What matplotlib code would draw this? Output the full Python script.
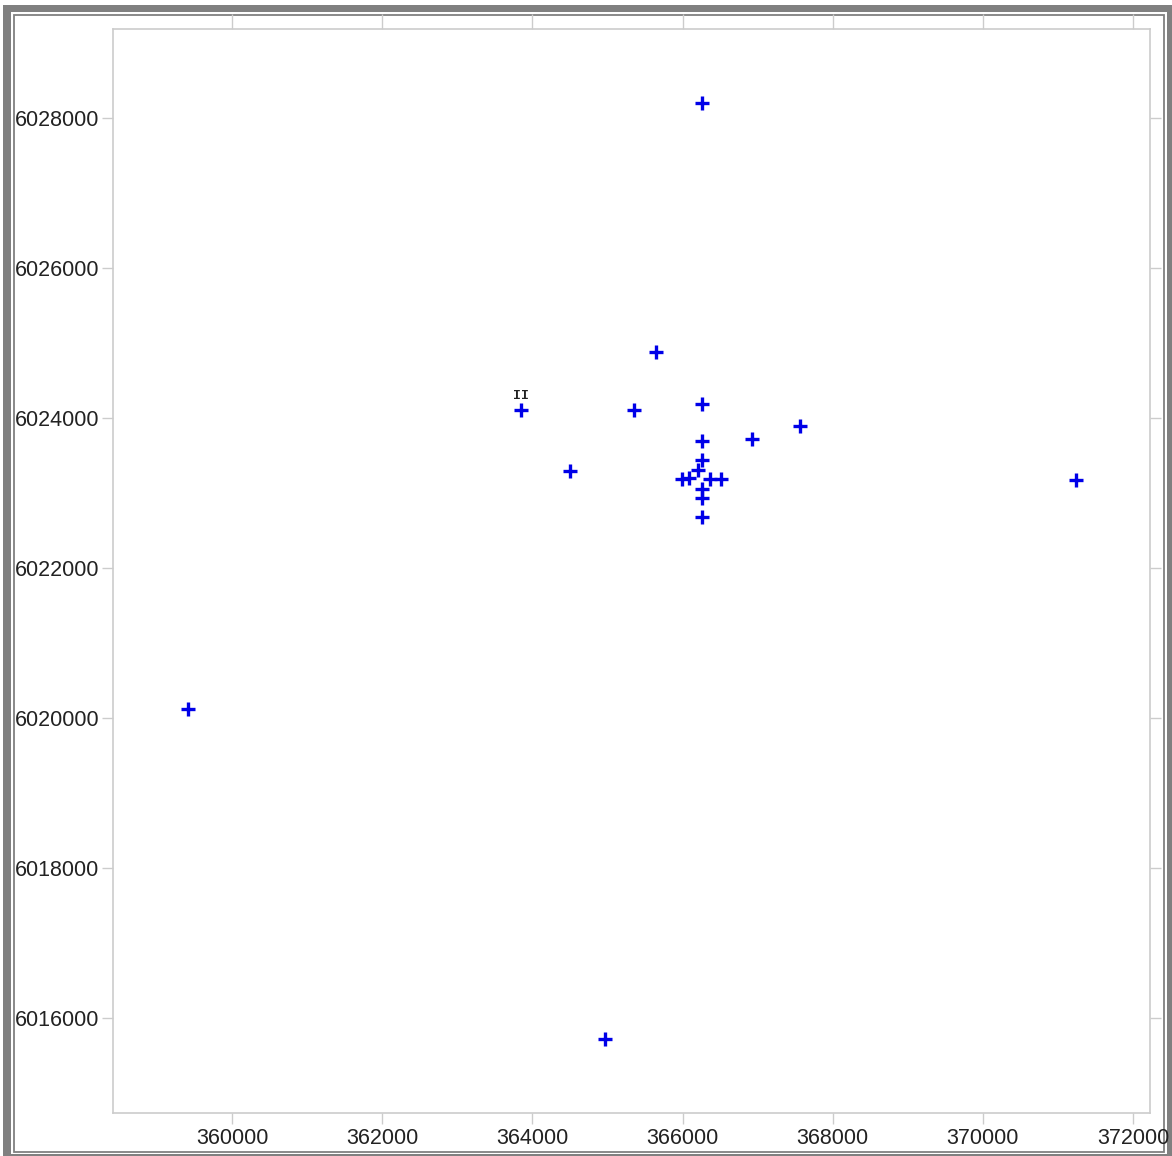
import numpy as np
import matplotlib.pyplot as plt
from matplotlib.patches import Rectangle

# Station coordinates (easting / northing)
easting = [366253, 365653, 363853, 365347, 366253, 364507, 366253, 366920,
           367560, 371240, 359413, 364973, 366253, 366200, 365987, 366080,
           366360, 366507, 366253, 366253, 366253]
northing = [6028200, 6024880, 6024107, 6024107, 6024187, 6023293, 6023693, 6023720,
            6023893, 6023173, 6020120, 6015720, 6023440, 6023307, 6023187, 6023200,
            6023187, 6023187, 6023053, 6022933, 6022680]
point_labels = ["", "", "II", "", "", "", "", "", "", "", "", "", "", "", "",
                "", "", "", "", "", ""]

x_ticks = [360000, 362000, 364000, 366000, 368000, 370000, 372000]
y_ticks = [6016000, 6018000, 6020000, 6022000, 6024000, 6026000, 6028000]

W, H = 1172, 1156
fig = plt.figure(figsize=(W / 100, H / 100), dpi=100)
plt.rcParams['font.family'] = ['Liberation Sans', 'DejaVu Sans']

def fx(px):
    return px / W

def fy(py):
    return 1 - py / H

# grey picture frame
fig.patches.append(Rectangle((fx(3), fy(1156)), fx(1172) - fx(3), fy(5) - fy(1156),
                             transform=fig.transFigure, facecolor='#808080',
                             edgecolor='none', zorder=-3))
fig.patches.append(Rectangle((fx(11), fy(1154)), fx(1167) - fx(11), fy(12) - fy(1154),
                             transform=fig.transFigure, facecolor='white',
                             edgecolor='none', zorder=-2))
fig.patches.append(Rectangle((fx(14), fy(1152)), fx(1164) - fx(14), fy(14.5) - fy(1152),
                             transform=fig.transFigure, facecolor='none',
                             edgecolor='#808080', linewidth=1.3, zorder=-1))

ax = fig.add_axes([fx(113), fy(1113), fx(1150) - fx(113), fy(29) - fy(1113)])
ax.set_zorder(2)
ax.plot(easting, northing, linestyle='none', marker='+', color='#0000e8',
        markersize=9.5, markeredgewidth=2.4)
for x, y, lab in zip(easting, northing, point_labels):
    if lab:
        ax.annotate(lab, (x, y), xytext=(0, 10), textcoords='offset points',
                    ha='center', va='center', fontsize=9.5,
                    family=['Liberation Mono', 'DejaVu Sans Mono'], fontweight='bold',
                    color='#222222')

ax.set_xlim(358413, 372227)
ax.set_ylim(6014733, 6029187)
ax.set_xticks(x_ticks)
ax.set_yticks(y_ticks)
ax.set_xticklabels([str(v) for v in x_ticks])
ax.set_yticklabels([str(v) for v in y_ticks])

for s in ax.spines.values():
    s.set_color('#cccccc')
    s.set_linewidth(1.2)
ax.tick_params(axis='both', which='major', direction='out', length=8, width=1.0,
               color='#cccccc', labelsize=15.5, labelcolor='#222222',
               top=True, right=True)
ax.tick_params(axis='x', pad=3)
ax.tick_params(axis='y', pad=2)
# top ticks run up to the frame line
for t in ax.xaxis.get_major_ticks():
    t.tick2line.set_markersize(11)

fig.savefig('out.png', dpi=100)
